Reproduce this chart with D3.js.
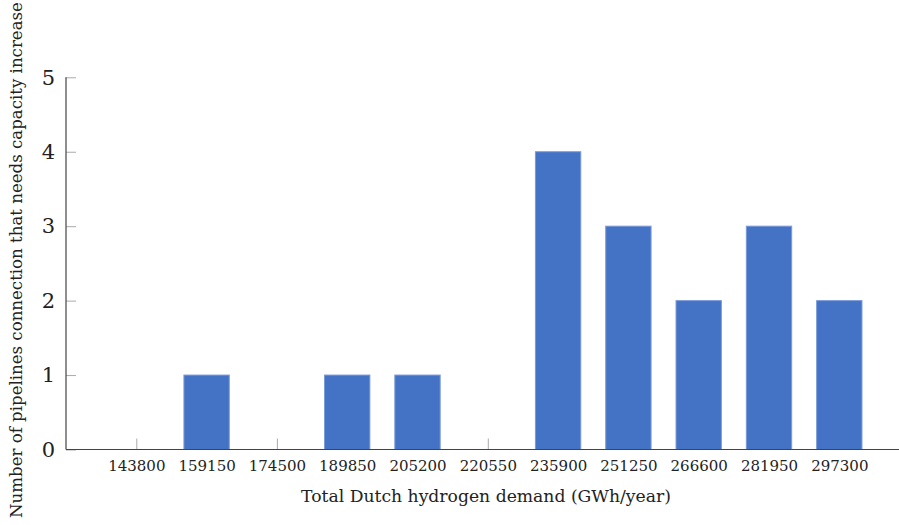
<!DOCTYPE html>
<html>
<head>
<meta charset="utf-8">
<script src="https://cdn.jsdelivr.net/npm/d3@7"></script>
<style>
  html, body { margin: 0; padding: 0; background: #fff; }
  svg { display: block; font-family: "DejaVu Serif", serif; }
</style>
</head>
<body>
<svg id="chart" width="899" height="525"></svg>
<script>
// Hydrogen demand scenarios (GWh/year) and pipelines needing more capacity
const demandLevels = ["143800", "159150", "174500", "189850", "205200", "220550",
                      "235900", "251250", "266600", "281950", "297300"];
const pipelinesUpgraded = [0, 1, 0, 1, 1, 0, 4, 3, 2, 3, 2];
const yTicks = [0, 1, 2, 3, 4, 5];

const xTitle = "Total Dutch hydrogen demand (GWh/year)";
const yTitle = "Number of pipelines connection that needs capacity increase";

const svg = d3.select("#chart");

const plotLeft = 66, plotBottom = 449.5, plotTop = 77.3;
const x = d3.scalePoint().domain(demandLevels).range([136.3, 839.3]);
const step = x.step();
const barWidth = step * 0.645;
const y = d3.scaleLinear().domain([0, 5]).range([plotBottom, plotTop]);

// x axis: ticks pointing up into the plot
const gx = svg.append("g")
  .attr("transform", `translate(0,${plotBottom})`)
  .call(d3.axisBottom(x).tickSizeInner(-11).tickSizeOuter(0).tickPadding(11));
gx.select(".domain").remove();
gx.selectAll(".tick line").attr("stroke", "#aaa");
gx.selectAll(".tick text").attr("font-size", 15).attr("fill", "#222")
  .attr("font-family", "DejaVu Serif");

// y axis: ticks pointing right into the plot
const gy = svg.append("g")
  .attr("transform", `translate(${plotLeft},0)`)
  .call(d3.axisLeft(y).tickValues(yTicks).tickFormat(d3.format("d"))
    .tickSizeInner(-10).tickSizeOuter(0).tickPadding(11));
gy.select(".domain").remove();
gy.selectAll(".tick line").attr("stroke", "#aaa");
gy.selectAll(".tick text").attr("font-size", 21).attr("fill", "#222")
  .attr("font-family", "DejaVu Serif");

// bars
svg.append("g").selectAll("rect")
  .data(demandLevels.map((d, i) => ({ level: d, value: pipelinesUpgraded[i] })))
  .join("rect")
  .filter(d => d.value > 0)
  .attr("x", d => x(d.level) - barWidth / 2)
  .attr("y", d => y(d.value))
  .attr("width", barWidth)
  .attr("height", d => y(0) - y(d.value))
  .attr("fill", "#4472c4")
  .attr("stroke", "#7a9ad8")
  .attr("stroke-width", 1);

// axis lines drawn above the bars
svg.append("line")
  .attr("x1", plotLeft).attr("x2", 899)
  .attr("y1", plotBottom).attr("y2", plotBottom)
  .attr("stroke", "#444").attr("stroke-width", 1.2);
svg.append("line")
  .attr("x1", plotLeft).attr("x2", plotLeft)
  .attr("y1", y(5)).attr("y2", plotBottom)
  .attr("stroke", "#444").attr("stroke-width", 1.2);

// axis titles
svg.append("text")
  .attr("x", 486).attr("y", 502)
  .attr("text-anchor", "middle")
  .attr("font-size", 17.2).attr("fill", "#222")
  .text(xTitle);

svg.append("text")
  .attr("transform", "translate(22,260) rotate(-90)")
  .attr("text-anchor", "middle")
  .attr("font-size", 16.6).attr("fill", "#222")
  .text(yTitle);
</script>
</body>
</html>
